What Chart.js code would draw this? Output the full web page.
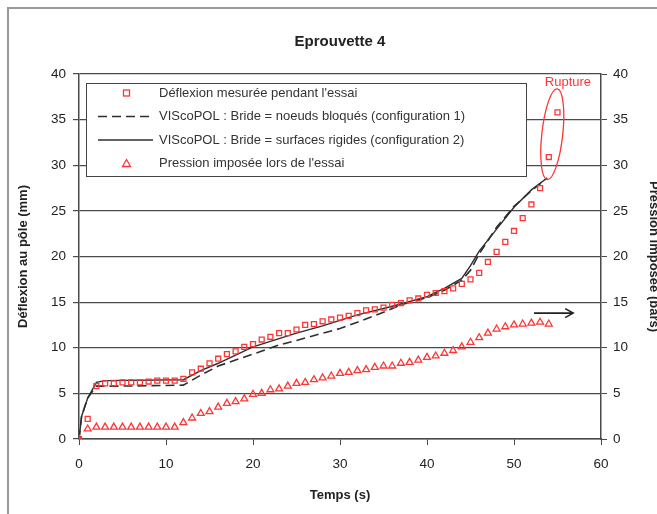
<!DOCTYPE html>
<html lang="fr">
<head>
    <meta charset="UTF-8">
    <title>Eprouvette 4</title>
    <script src="https://cdn.jsdelivr.net/npm/chart.js"></script>
    <style>
        body {
            margin: 0;
            overflow: hidden;
            background: #fff;
            font-family: "Liberation Sans", Arial, sans-serif;
        }
        .wrap {
            position: relative;
            width: 680px;
            height: 514px;
        }
        .frame {
            position: absolute;
            left: 7px;
            top: 7px;
            width: 700px;
            height: 600px;
            border-left: 2px solid #999;
            border-top: 2px solid #999;
            pointer-events: none;
        }
        canvas { display: block; }
    </style>
</head>
<body>
    <div class="wrap">
        <canvas id="chart" width="680" height="514"></canvas>
        <div class="frame"></div>
    </div>

    <script>
        // Déflexion mesurée (mm) vs temps (s)
        const tMesure = [0, 1, 2, 3, 4, 5, 6, 7, 8, 9, 10, 11, 12, 13, 14, 15, 16, 17, 18, 19,
            20, 21, 22, 23, 24, 25, 26, 27, 28, 29, 30, 31, 32, 33, 34, 35, 36, 37, 38, 39,
            40, 41, 42, 43, 44, 45, 46, 47, 48, 49, 50, 51, 52, 53, 54, 55];
        const defMesure = [0, 2.2, 5.8, 6.1, 6.1, 6.2, 6.2, 6.2, 6.3, 6.4, 6.4, 6.4, 6.6, 7.3, 7.7, 8.3, 8.8, 9.3, 9.6, 10.1,
            10.4, 10.9, 11.2, 11.6, 11.6, 12.0, 12.5, 12.6, 12.9, 13.1, 13.3, 13.5, 13.8, 14.1, 14.2, 14.4, 14.7, 14.9, 15.2, 15.4,
            15.8, 16.0, 16.2, 16.5, 17.0, 17.5, 18.2, 19.4, 20.5, 21.6, 22.8, 24.2, 25.7, 27.5, 30.9, 35.8];

        // VIScoPOL configuration 1 (noeuds bloqués)
        const tConfig1 = [0, 0.3, 1, 2, 5, 12, 14, 16, 20, 23, 25, 28, 30, 32, 35, 37, 40, 42, 44, 45, 46, 48, 50, 52, 53.8];
        const defConfig1 = [0, 2.5, 4.5, 5.8, 5.8, 5.9, 7.0, 8.0, 9.3, 10.3, 10.8, 11.6, 12.1, 12.8, 13.9, 14.7, 15.5, 16.3, 17.4, 18.5, 20.3, 23.2, 25.5, 27.2, 28.6];

        // VIScoPOL configuration 2 (surfaces rigides)
        const tConfig2 = [0, 0.3, 1, 2, 3, 12, 14, 16, 20, 25, 28, 30, 32, 35, 37, 40, 42, 44, 45, 46, 48, 50, 52, 53.8];
        const defConfig2 = [0, 2.5, 4.5, 6.2, 6.4, 6.5, 7.5, 8.3, 10.1, 11.6, 12.4, 13.0, 13.6, 14.3, 14.8, 15.6, 16.5, 17.6, 19.0, 20.6, 23.0, 25.4, 27.3, 28.6];

        // Pression imposée (bars)
        const tPression = [0, 1, 2, 3, 4, 5, 6, 7, 8, 9, 10, 11, 12, 13, 14, 15, 16, 17, 18, 19,
            20, 21, 22, 23, 24, 25, 26, 27, 28, 29, 30, 31, 32, 33, 34, 35, 36, 37, 38, 39,
            40, 41, 42, 43, 44, 45, 46, 47, 48, 49, 50, 51, 52, 53, 54];
        const pression = [0, 1.1, 1.3, 1.3, 1.3, 1.3, 1.3, 1.3, 1.3, 1.3, 1.3, 1.3, 1.8, 2.3, 2.8, 3.0, 3.5, 3.9, 4.1, 4.4,
            4.9, 5.0, 5.4, 5.5, 5.8, 6.1, 6.2, 6.5, 6.7, 6.9, 7.2, 7.3, 7.5, 7.6, 7.85, 8.0, 8.0, 8.3, 8.4, 8.65,
            8.95, 9.1, 9.4, 9.7, 10.1, 10.6, 11.1, 11.6, 12.05, 12.3, 12.5, 12.6, 12.7, 12.8, 12.6];

        const legendLabels = [
            "Déflexion mesurée pendant l'essai",
            "VIScoPOL : Bride = noeuds bloqués (configuration 1)",
            "VIScoPOL : Bride = surfaces rigides (configuration 2)",
            "Pression imposée lors de l'essai"
        ];

        // annotations (data units)
        const rupture = { x: 54.4, y: 33.4, dx: 1.2, dy: 5.0, labelX: 56.2, labelY: 39.1 };
        const arrow = { x1: 52.3, x2: 56.8, y: 13.8 };

        const RED = '#ff3535';
        const LINE = '#2e2e2e';
        const FONT = '"Liberation Sans", Arial, sans-serif';
        const TXT = '#222222';
        const GRID = '#4a4a4a';

        function pts(xs, ys) {
            return xs.map((x, i) => ({ x: x, y: ys[i] }));
        }

        const legendBox = {
            id: 'legendBox',
            afterDatasetsDraw(chart) {
                const ctx = chart.ctx;
                const x0 = 86, y0 = 83, w = 440, h = 93;
                ctx.save();
                ctx.fillStyle = '#fff';
                ctx.fillRect(x0, y0, w, h);
                ctx.strokeStyle = '#444';
                ctx.lineWidth = 1;
                ctx.strokeRect(x0 + 0.5, y0 + 0.5, w, h);
                const rows = [93, 116.5, 140, 163.5];
                ctx.font = '13px ' + FONT;
                ctx.textBaseline = 'middle';
                rows.forEach((ry, i) => {
                    ctx.fillStyle = '#333';
                    ctx.fillText(legendLabels[i], 159, ry);
                    if (i === 0) {
                        ctx.strokeStyle = RED;
                        ctx.lineWidth = 1.3;
                        ctx.strokeRect(123.5, ry - 3, 6, 6);
                    } else if (i === 3) {
                        ctx.strokeStyle = RED;
                        ctx.lineWidth = 1.3;
                        ctx.beginPath();
                        ctx.moveTo(126.5, ry - 4);
                        ctx.lineTo(130.5, ry + 3);
                        ctx.lineTo(122.5, ry + 3);
                        ctx.closePath();
                        ctx.stroke();
                    } else {
                        ctx.strokeStyle = LINE;
                        ctx.lineWidth = 1.5;
                        ctx.setLineDash(i === 1 ? [9, 5] : []);
                        ctx.beginPath();
                        ctx.moveTo(98, ry);
                        ctx.lineTo(153, ry);
                        ctx.stroke();
                        ctx.setLineDash([]);
                    }
                    ctx.lineWidth = 1;
                });
                ctx.restore();
            }
        };

        const notes = {
            id: 'notes',
            afterDatasetsDraw(chart) {
                const ctx = chart.ctx;
                const sx = chart.scales.x, sy = chart.scales.y;
                ctx.save();
                // ellipse
                const cx = sx.getPixelForValue(rupture.x);
                const cy = sy.getPixelForValue(rupture.y);
                const rx = sx.getPixelForValue(rupture.x + rupture.dx) - cx;
                const ry = cy - sy.getPixelForValue(rupture.y + rupture.dy);
                ctx.strokeStyle = RED;
                ctx.lineWidth = 1.3;
                ctx.beginPath();
                ctx.ellipse(cx, cy, rx, ry, 0.11, 0, Math.PI * 2);
                ctx.stroke();
                ctx.fillStyle = RED;
                ctx.font = '13px ' + FONT;
                ctx.textAlign = 'center';
                ctx.textBaseline = 'middle';
                ctx.fillText('Rupture', sx.getPixelForValue(rupture.labelX), sy.getPixelForValue(rupture.labelY));
                // arrow toward the right axis
                const ax1 = sx.getPixelForValue(arrow.x1);
                const ax2 = sx.getPixelForValue(arrow.x2);
                const ay = sy.getPixelForValue(arrow.y);
                ctx.strokeStyle = '#222';
                ctx.lineWidth = 1.6;
                ctx.beginPath();
                ctx.moveTo(ax1, ay);
                ctx.lineTo(ax2, ay);
                ctx.moveTo(ax2 - 8, ay - 4.5);
                ctx.lineTo(ax2, ay);
                ctx.lineTo(ax2 - 8, ay + 4.5);
                ctx.stroke();
                ctx.restore();
            }
        };

        new Chart(document.getElementById('chart'), {
            type: 'scatter',
            data: {
                datasets: [
                    {
                        label: legendLabels[0],
                        data: pts(tMesure, defMesure),
                        yAxisID: 'y',
                        pointStyle: 'rect',
                        pointRadius: 3.5,
                        borderWidth: 1.3,
                        borderColor: RED,
                        backgroundColor: tMesure.map((t, i) => i === 0 ? RED : 'rgba(255,255,255,0)'),
                        showLine: false,
                        order: 1
                    },
                    {
                        label: legendLabels[1],
                        data: pts(tConfig1, defConfig1),
                        yAxisID: 'y',
                        showLine: true,
                        pointRadius: 0,
                        borderColor: LINE,
                        borderWidth: 1.6,
                        borderDash: [9, 5],
                        order: 2
                    },
                    {
                        label: legendLabels[2],
                        data: pts(tConfig2, defConfig2),
                        yAxisID: 'y',
                        showLine: true,
                        pointRadius: 0,
                        borderColor: LINE,
                        borderWidth: 1.4,
                        order: 3
                    },
                    {
                        label: legendLabels[3],
                        data: pts(tPression, pression),
                        yAxisID: 'y2',
                        pointStyle: 'triangle',
                        pointRadius: 4,
                        borderWidth: 1.3,
                        borderColor: RED,
                        backgroundColor: tPression.map((t, i) => i === 0 ? RED : 'rgba(255,255,255,0)'),
                        showLine: false,
                        order: 0
                    }
                ]
            },
            options: {
                responsive: false,
                animation: false,
                layout: { padding: 0 },
                plugins: {
                    legend: { display: false },
                    tooltip: { enabled: false },
                    title: {
                        display: true,
                        text: 'Eprouvette 4',
                        color: TXT,
                        font: { family: FONT, size: 15, weight: 'bold' },
                        padding: { top: 33, bottom: 23 }
                    }
                },
                scales: {
                    x: {
                        type: 'linear',
                        min: 0,
                        max: 60,
                        ticks: { stepSize: 10, color: TXT, padding: 11, font: { family: FONT, size: 13.5 } },
                        grid: { drawOnChartArea: false, drawTicks: true, tickLength: 6, color: GRID },
                        border: { color: GRID, width: 1.5 },
                        title: { display: true, text: 'Temps (s)', color: TXT, font: { family: FONT, size: 13, weight: 'bold' }, padding: { top: 0, bottom: 11 } },
                        afterFit(s) { s.height = 75; }
                    },
                    y: {
                        position: 'left',
                        min: 0,
                        max: 40,
                        ticks: { stepSize: 5, color: TXT, padding: 7, font: { family: FONT, size: 13.5 } },
                        grid: { color: GRID, tickLength: 6, lineWidth: 1.2 },
                        border: { color: GRID, width: 1.5 },
                        title: { display: true, text: 'Déflexion au pôle (mm)', color: TXT, font: { family: FONT, size: 13, weight: 'bold' }, padding: { top: 16, bottom: 0 } },
                        afterFit(s) { s.width = 79; }
                    },
                    y2: {
                        position: 'right',
                        min: 0,
                        max: 40,
                        ticks: { stepSize: 5, color: TXT, padding: 6, font: { family: FONT, size: 13.5 } },
                        grid: { drawOnChartArea: false, tickLength: 6, color: GRID },
                        border: { color: GRID, width: 1.5 },
                        title: { display: true, text: 'Pression imposée (bars)', color: TXT, font: { family: FONT, size: 13, weight: 'bold' }, padding: { top: 19, bottom: 0 } },
                        afterFit(s) { s.width = 79; }
                    }
                }
            },
            plugins: [legendBox, notes]
        });
    </script>
</body>
</html>
